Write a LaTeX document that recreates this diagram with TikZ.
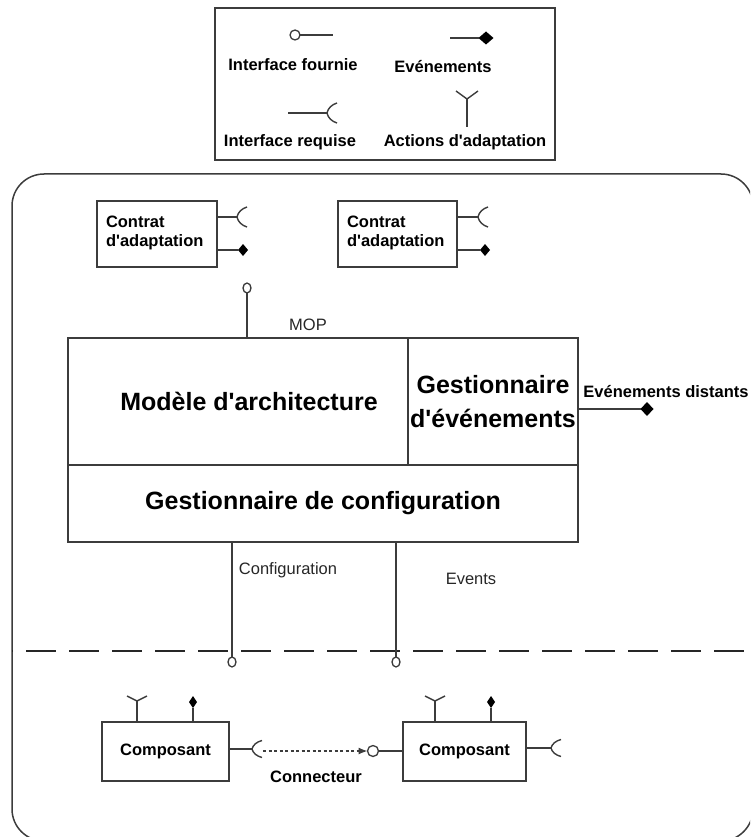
\documentclass[tikz,border=0pt]{standalone}
\usepackage{fontspec}
\setmainfont{Liberation Sans}
\usetikzlibrary{shapes.geometric,arrows.meta}
\definecolor{ln}{HTML}{3C3C3C}
\newcommand{\ap}{\textquotesingle}
\begin{document}
\begin{tikzpicture}[x=1pt,y=-1pt,
  every node/.style={inner sep=0pt, outer sep=0pt},
  ln/.style={draw=ln, line width=1.4pt},
  box/.style={draw=ln, line width=1.8pt, rectangle},
  lbl/.style={font=\fontsize{16.5}{19}\selectfont\bfseries, text=black},
  big/.style={font=\fontsize{25}{34}\selectfont\bfseries, text=black},
  reg/.style={font=\fontsize{16.5}{19}\selectfont, text=black!85},
  prov/.style={ellipse, draw=ln, line width=1.3pt, fill=white, minimum width=8pt, minimum height=10pt},
  evt/.style={diamond, fill=black, minimum width=10pt, minimum height=12pt},
  socket/.pic={\draw[ln] (10,-10) .. controls (5,-8.5) and (1,-5) .. (0,0) .. controls (1,5) and (5,8.5) .. (10,10);},
  acty/.pic={\draw[ln] (-11,-8) -- (0,0) -- (11,-8);},
  actys/.pic={\draw[ln] (-10,-5) -- (0,0) -- (10,-5);}
]
\useasboundingbox (0,0) rectangle (750,837);
% outer frame
\begin{scope}
\clip (0,0) rectangle (750,837);
\draw[ln, line width=1.5pt, rounded corners=32pt] (12,174) rectangle (753,841);
\end{scope}

% legend
\node[box, minimum width=340pt, minimum height=152pt] (legend) at (385,84) {};
\node[prov, minimum width=10pt, minimum height=10pt] (lp) at (295,35) {};
\coordinate (lpe) at (333,35);
\draw[ln] (lp) -- (lpe);
\node[lbl] (tfour) at (293,65) {Interface fournie};
\coordinate (lev) at (450,38);
\node[evt, minimum width=15pt, minimum height=13pt] (led) at (486,38) {};
\draw[ln] (lev) -- (led);
\node[lbl] (tevt) at (443,67) {Evénements};
\coordinate (lrs) at (288,113);
\coordinate (lre) at (327,113);
\draw[ln] (lrs) -- (lre);
\pic at (lre) {socket};
\node[lbl] (treq) at (290,142) {Interface requise};
\coordinate (lyj) at (467,99);
\coordinate (lyb) at (467,127);
\draw[ln] (lyb) -- (lyj);
\pic at (lyj) {acty};
\node[lbl] (tact) at (465,142) {Actions d\ap adaptation};

% contrats
\node[box, minimum width=120pt, minimum height=66pt] (ct1) at (157,234) {};
\node[lbl, align=left, anchor=west] (ct1t) at (106,233) {Contrat\\d\ap adaptation};
\coordinate (cs1) at (237,217);
\draw[ln] (ct1.east |- cs1) -- (cs1);
\pic at (cs1) {socket};
\node[evt] (ce1) at (243,250) {};
\draw[ln] (ct1.east |- ce1) -- (ce1);

\node[box, minimum width=119pt, minimum height=66pt] (ct2) at (397.5,234) {};
\node[lbl, align=left, anchor=west] (ct2t) at (347,233) {Contrat\\d\ap adaptation};
\coordinate (cs2) at (478,217);
\draw[ln] (ct2.east |- cs2) -- (cs2);
\pic at (cs2) {socket};
\node[evt] (ce2) at (485,250) {};
\draw[ln] (ct2.east |- ce2) -- (ce2);

% main block
\node[box, minimum width=340pt, minimum height=127pt] (modele) at (238,401.5) {};
\node[big] (mtxt) at (249,401) {Modèle d\ap architecture};
\node[box, big, align=center, minimum width=170pt, minimum height=127pt] (gevt) at (493,401.5) {Gestionnaire\\d\ap événements};
\node[box, big, minimum width=510pt, minimum height=77pt] (gconf) at (323,503.5) {Gestionnaire de configuration};

% MOP
\node[prov] (mop) at (247,288) {};
\draw[ln] (mop) -- (mop |- modele.north);
\node[reg] (tmop) at (308,325) {MOP};

% événements distants
\node[evt, minimum width=13pt, minimum height=14pt] (edist) at (647,409) {};
\draw[ln] (gevt.east |- edist) -- (edist);
\node[lbl] (tdist) at (666,392) {Evénements distants};

% dashed separator
\coordinate (dl) at (12,651);
\coordinate (dr) at (750,651);
\draw[draw=black!85, line width=2.8pt, dash pattern=on 30pt off 13pt, dash phase=29pt] (dl) -- (dr);

% configuration / events
\node[prov] (pc) at (232,662) {};
\draw[ln] (pc) -- (pc |- gconf.south);
\node[reg] (tconf) at (288,570) {Configuration};
\node[prov] (pe) at (396,662) {};
\draw[ln] (pe) -- (pe |- gconf.south);
\node[reg] (tevts) at (471,579) {Events};

% composants
\node[box, lbl, minimum width=127pt, minimum height=59pt] (comp1) at (165.5,751.5) {Composant};
\coordinate (cy1) at (137,701);
\draw[ln] (cy1 |- comp1.north) -- (cy1);
\pic at (cy1) {actys};
\node[evt, minimum width=8pt, minimum height=12pt] (cd1) at (193,702) {};
\draw[ln] (cd1) -- (cd1 |- comp1.north);
\coordinate (cso1) at (252,749);
\draw[ln] (comp1.east |- cso1) -- (cso1);
\pic[yscale=0.85] at (cso1) {socket};
\coordinate (cst) at (263,751);

\node[box, lbl, minimum width=123pt, minimum height=59pt] (comp2) at (464.5,751.5) {Composant};
\coordinate (cy2) at (435,701);
\draw[ln] (cy2 |- comp2.north) -- (cy2);
\pic at (cy2) {actys};
\node[evt, minimum width=8pt, minimum height=12pt] (cd2) at (491,702) {};
\draw[ln] (cd2) -- (cd2 |- comp2.north);
\coordinate (cso2) at (551,748);
\draw[ln] (comp2.east |- cso2) -- (cso2);
\pic[yscale=0.85] at (cso2) {socket};

% connecteur
\node[prov, minimum width=11pt, minimum height=11pt] (cp) at (373,751) {};
\draw[ln] (cp) -- (cp -| comp2.west);
\draw[draw=ln, line width=1.3pt, dash pattern=on 3pt off 2.5pt, -{Latex[length=9pt,width=7pt]}] (cst) -- (cp.west);
\node[lbl] (tconn) at (316,777) {Connecteur};
\end{tikzpicture}
\end{document}
